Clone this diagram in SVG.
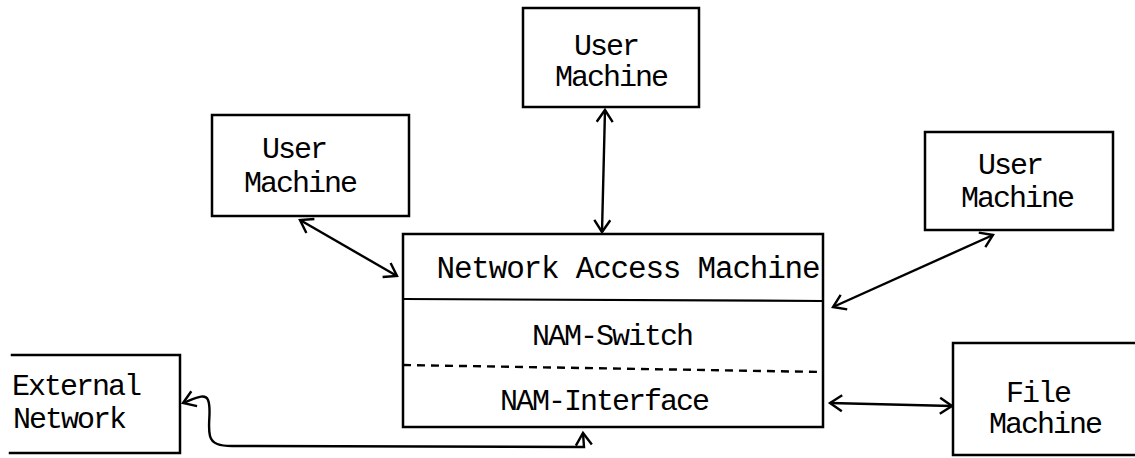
<svg xmlns="http://www.w3.org/2000/svg" width="1135" height="458" viewBox="0 0 1135 458">
<style>
.box{fill:none;stroke:#000;stroke-width:2.5;stroke-linecap:square}
.t{font-family:"Liberation Mono","DejaVu Sans Mono",monospace;font-size:30px;letter-spacing:-2px;fill:#000;text-anchor:middle}
.big{font-size:31px;letter-spacing:-1.2px}
.c{fill:none;stroke:#000;stroke-width:2.4}
</style>
<defs>
<marker id="ah" markerUnits="userSpaceOnUse" markerWidth="30" markerHeight="30" refX="0" refY="0" viewBox="-15 -15 30 30" orient="auto-start-reverse">
<path d="M-12,-8 L0,0 L-12,8" fill="none" stroke="#000" stroke-width="2.4"/>
</marker>
</defs>
<rect width="1135" height="458" fill="#fff"/>
<g id="user-top">
<rect class="box" x="523" y="8" width="176" height="99"/>
<text class="t" x="606" y="55">User</text>
<text class="t" x="611" y="86">Machine</text>
</g>
<g id="user-left">
<rect class="box" x="212" y="115" width="197" height="101"/>
<text class="t" x="294" y="158">User</text>
<text class="t" x="300" y="192">Machine</text>
</g>
<g id="user-right">
<rect class="box" x="925" y="132" width="188" height="98"/>
<text class="t" x="1010" y="174">User</text>
<text class="t" x="1017" y="207">Machine</text>
</g>
<g id="nam">
<rect class="box" x="403" y="234" width="420" height="193"/>
<line x1="403" y1="299" x2="823" y2="301" stroke="#000" stroke-width="2.2"/>
<line x1="403" y1="365" x2="823" y2="372" stroke="#000" stroke-width="2.4" stroke-dasharray="8,6"/>
<text class="t big" x="628" y="278">Network Access Machine</text>
<text class="t" x="612" y="345">NAM-Switch</text>
<text class="t" x="604" y="410">NAM-Interface</text>
</g>
<g id="external-network">
<path class="box" d="M12,355 L180,355 L180,453 L10,453"/>
<text class="t" x="76" y="395">External</text>
<text class="t" x="69" y="428">Network</text>
</g>
<g id="file-machine">
<path class="box" d="M1135,343 L953,343 L953,455 L1135,455"/>
<text class="t" x="1038" y="402">File</text>
<text class="t" x="1045" y="433">Machine</text>
</g>
<g id="connectors">
<line class="c" x1="605" y1="110" x2="602" y2="232" marker-start="url(#ah)" marker-end="url(#ah)"/>
<line class="c" x1="300" y1="220" x2="397" y2="276" marker-start="url(#ah)" marker-end="url(#ah)"/>
<line class="c" x1="993" y1="235" x2="833" y2="307" marker-start="url(#ah)" marker-end="url(#ah)"/>
<line class="c" x1="830" y1="403" x2="952" y2="406" marker-start="url(#ah)" marker-end="url(#ah)"/>
<path class="c" d="M583,433 L584,447 L232,446 C220,446 212,444 210,436 C207,424 212,410 208,400 C205,393 196,398 183,403" marker-start="url(#ah)" marker-end="url(#ah)"/>
</g>
</svg>
